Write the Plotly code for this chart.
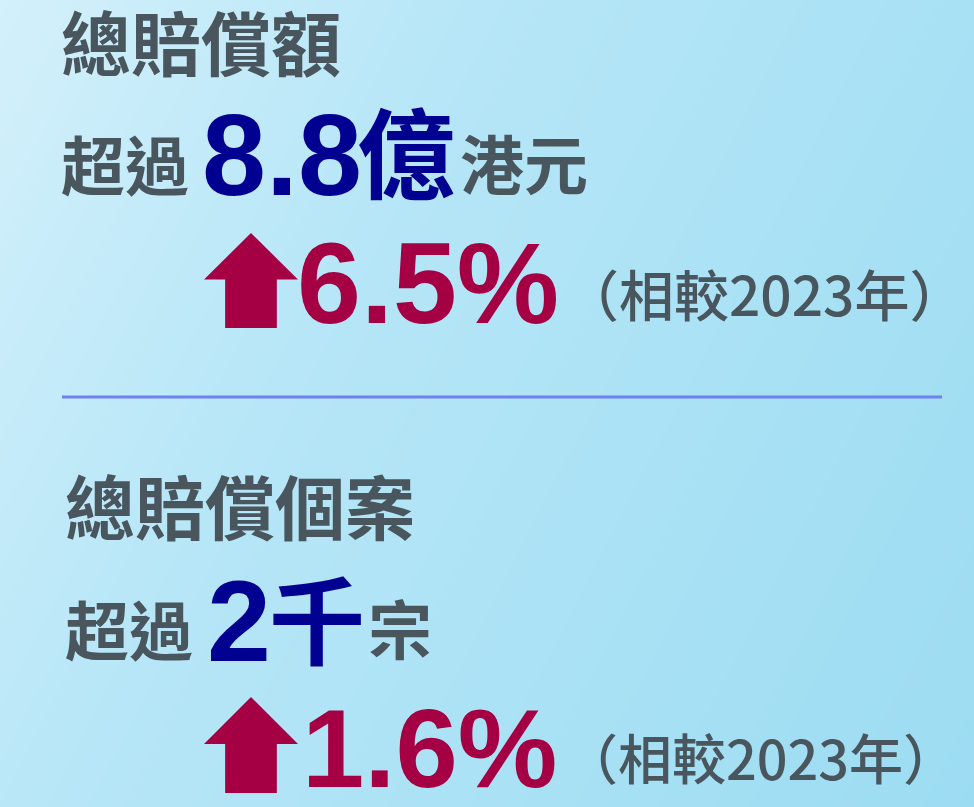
import plotly.graph_objects as go
import numpy as np

W, H = 974, 807

# ---- data ----
section_titles = ["總賠償額", "總賠償個案"]
prefix_text = ["超過", "超過"]
headline_values = ["8.8", "2"]
headline_units = ["億", "千"]
unit_suffix = ["港元", "宗"]
growth_pct = [6.5, 1.6]
compare_label = "（相較2023年）"

GRAY = "#4a565e"
NAVY = "#000091"
RED = "#a50044"
LINE = "#6f80f0"
CJK = "Noto Sans CJK TC"
NUM = "Liberation Sans, Arial"

fig = go.Figure()

# background gradient
gx = np.linspace(0, W, 12)
gy = np.linspace(0, H, 10)
GX, GY = np.meshgrid(gx, gy)
Z = GX / W * 0.7 + GY / H * 0.3
fig.add_trace(go.Heatmap(
    x=gx, y=gy, z=Z, zsmooth="best", showscale=False, hoverinfo="skip",
    colorscale=[[0, "#d3f0fb"], [0.35, "#b6e6f7"], [1, "#9cdcf2"]],
))

def txt(x, y, s, size, color, family, weight=700):
    fig.add_annotation(
        x=x, y=y, xref="x", yref="y", text=s, showarrow=False,
        xanchor="left", yanchor="middle", borderpad=0,
        font=dict(size=size, color=color, family=family, weight=weight),
    )

def arrow(x0, ytop, w, h):
    cx = x0 + w / 2
    hb = ytop + h * 0.49
    sw = w * 0.55
    path = (f"M {cx},{ytop} L {x0 + w},{hb} L {cx + sw/2},{hb} L {cx + sw/2},{ytop + h} "
            f"L {cx - sw/2},{ytop + h} L {cx - sw/2},{hb} L {x0},{hb} Z")
    fig.add_shape(type="path", path=path, xref="x", yref="y",
                  fillcolor=RED, line=dict(width=0), layer="above")

# --- section 1 ---
txt(60, 40, section_titles[0], 70, GRAY, CJK)
txt(60, 161.5, prefix_text[0], 64, GRAY, CJK)
txt(201, 155, headline_values[0], 115, NAVY, NUM)
txt(356, 148, headline_units[0], 98, NAVY, CJK)
txt(459, 160.5, unit_suffix[0], 64, GRAY, CJK)
arrow(204, 233, 94, 95)
txt(296, 283, f"{growth_pct[0]:.1f}%", 115, RED, NUM)
txt(563, 292, compare_label, 55, GRAY, CJK, weight=500)

# --- section 2 ---
txt(64, 504.5, section_titles[1], 70, GRAY, CJK)
txt(64, 626.5, prefix_text[1], 64, GRAY, CJK)
txt(206, 621, headline_values[1], 115, NAVY, NUM)
txt(268, 615.5, headline_units[1], 96, NAVY, CJK)
txt(367, 626, unit_suffix[1], 64, GRAY, CJK)
arrow(204, 697, 94, 96)
txt(301, 748, f"{growth_pct[1]:.1f}%", 112, RED, NUM)
txt(563, 756, compare_label, 54, GRAY, CJK, weight=500)

# divider
fig.add_shape(type="line", x0=62, x1=942, y0=397, y1=397, xref="x", yref="y",
              line=dict(color=LINE, width=3))

fig.update_layout(
    width=W, height=H, margin=dict(l=0, r=0, t=0, b=0),
    paper_bgcolor="#b6e6f7", plot_bgcolor="#b6e6f7",
    xaxis=dict(range=[0, W], visible=False, fixedrange=True),
    yaxis=dict(range=[H, 0], visible=False, fixedrange=True),
    showlegend=False,
)
fig.write_html("out.html", config={"displayModeBar": False},
               post_script="document.body.style.margin='0';document.body.style.overflow='hidden';")
